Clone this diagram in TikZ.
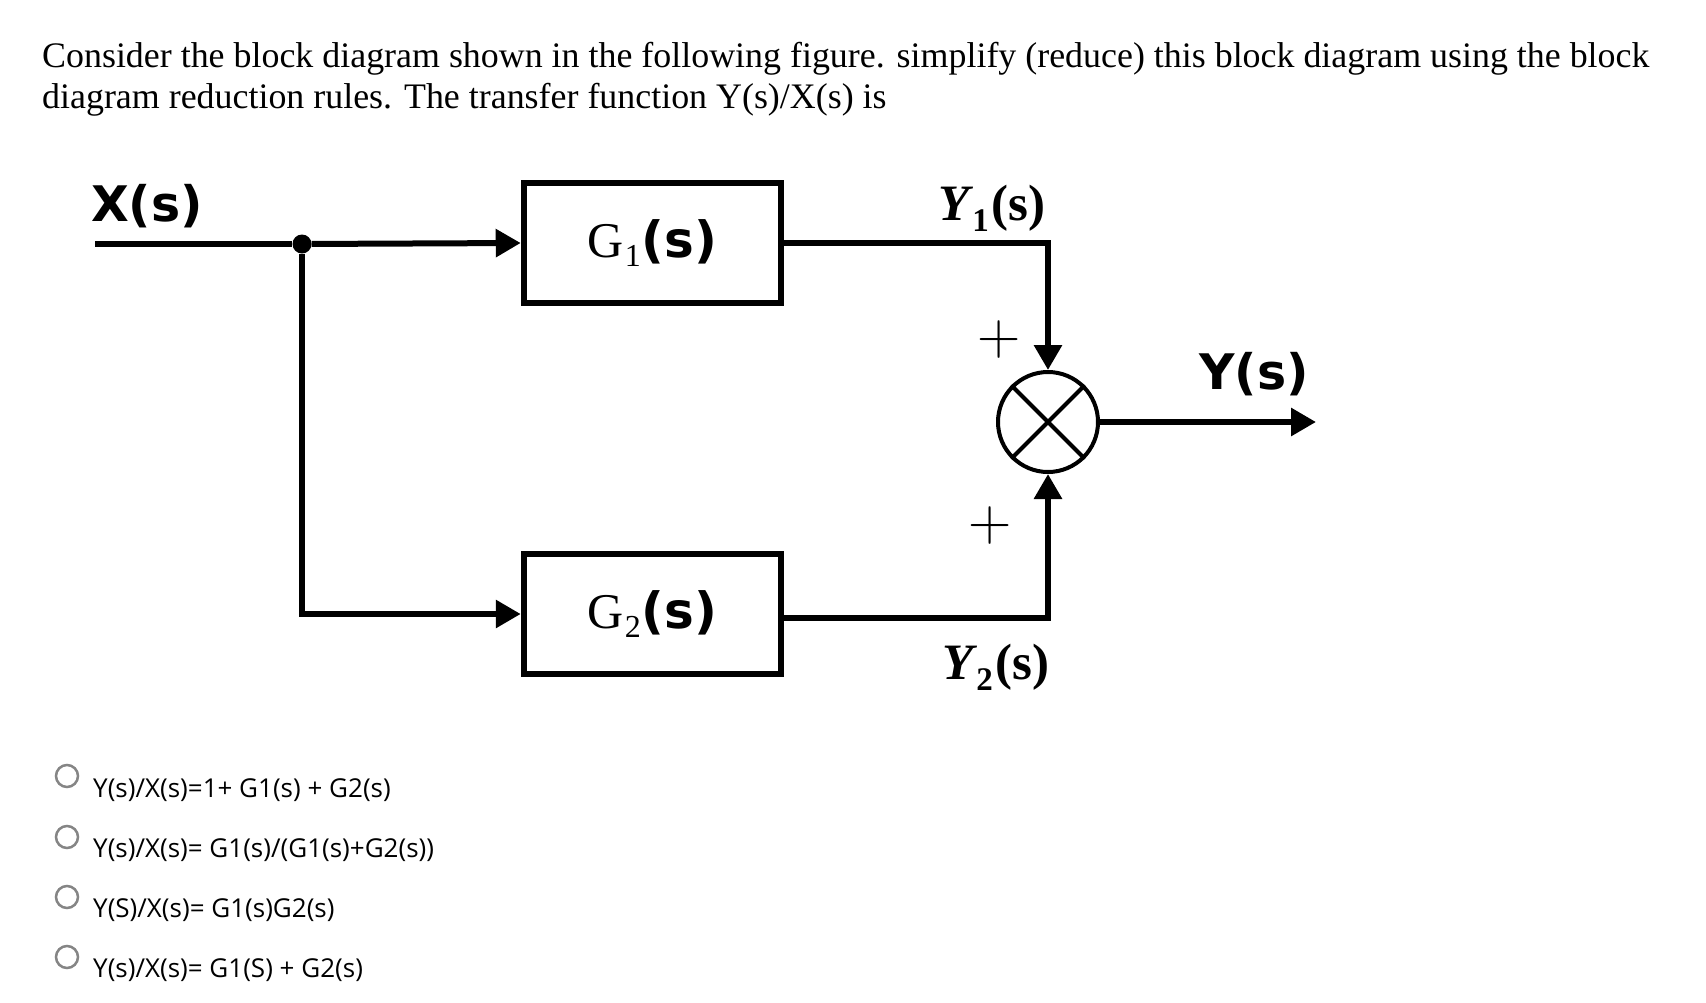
\documentclass[tikz,border=0pt]{standalone}
\usepackage{fontspec}
\setmainfont{Liberation Serif}
\newfontfamily\osans{Open Sans}
\newfontfamily\dvs{DejaVu Sans}
\newfontfamily\lmr{Latin Modern Roman}
\usetikzlibrary{arrows.meta}
\begin{document}
\begin{tikzpicture}[x=1pt,y=-1pt,
  wire/.style={line width=6pt},
  arr/.style={-{Triangle[length=25pt,width=27pt]}},
  blk/.style={draw, line width=6.5pt, minimum width=257pt, minimum height=120pt, inner sep=0pt},
  lab/.style={inner sep=0pt, font=\dvs\bfseries\fontsize{49}{49}\selectfont},
  ylab/.style={inner sep=0pt, font=\bfseries\fontsize{51}{51}\selectfont},
  plus/.style={inner sep=0pt, font=\lmr\fontsize{60}{60}\selectfont},
  radio/.style={draw=black!48, fill=white, circle, line width=2.5pt, minimum size=22pt, inner sep=0pt},
  opt/.style={anchor=base west, inner sep=0pt, font=\osans\fontsize{26}{30}\selectfont},
  ttl/.style={anchor=base west, inner sep=0pt, font=\fontsize{35.9}{41}\selectfont}]
\useasboundingbox (0,0) rectangle (1706,1002);
\fill[white] (0,0) rectangle (1706,1002);

% title
\node[ttl] (t1) at (42,67) {Consider the block diagram shown in the following figure. simplify (reduce) this block diagram using the block};
\node[ttl] (t2) at (42,108) {diagram reduction rules. The transfer function Y(s)/X(s) is};

% blocks
\node[blk] (G1) at (652.5,243) {{\fontsize{50}{50}\selectfont G\kern1pt\raisebox{-9pt}{\fontsize{32}{32}\selectfont 1}\kern1pt\dvs\bfseries(s)}};
\node[blk] (G2) at (652.5,614) {{\fontsize{50}{50}\selectfont G\kern1pt\raisebox{-9pt}{\fontsize{32}{32}\selectfont 2}\kern1pt\dvs\bfseries(s)}};

% summing junction
\node[draw, circle, line width=4pt, minimum size=100pt, inner sep=0pt] (S) at (1048,422) {};
\draw[line width=4pt] (S.45) -- (S.225) (S.135) -- (S.-45);

% branch point
\node[circle, fill, inner sep=0pt, minimum size=19pt] (J) at (302,244) {};
\coordinate (in) at (95,244);
\coordinate (out) at (1316,422);

% connectors
\draw[wire] (in) -- (J);
\draw[wire,arr] (J) -- (G1.west);
\draw[wire,arr] (J) |- (G2.west);
\draw[wire,arr] (G1.east) -| (S.north);
\draw[wire,arr] ([yshift=-4pt]G2.east) -| (S.south);
\draw[wire,arr] (S.east) -- (out);

% labels
\node[lab] (Xs) at (147,206) {X(s)};
\node[lab] (Ys) at (1254,374) {Y(s)};
\node[ylab] (Y1) at (992,208) {{\itshape Y}\kern3pt\raisebox{-11pt}{\fontsize{33}{33}\selectfont 1}\kern3pt(s)};
\node[ylab] (Y2) at (996,667) {{\itshape Y}\kern3pt\raisebox{-11pt}{\fontsize{33}{33}\selectfont 2}\kern3pt(s)};
\node[plus] (p1) at (999,340) {+};
\node[plus] (p2) at (990,526) {+};

% options
\node[radio] (r1) at (67,776) {};
\node[radio] (r2) at (67,837) {};
\node[radio] (r3) at (67,897) {};
\node[radio] (r4) at (67,957) {};
\node[opt] (o1) at (93,797) {Y(s)/X(s)=1+ G1(s) + G2(s)};
\node[opt] (o2) at (93,857) {Y(s)/X(s)= G1(s)/(G1(s)+G2(s))};
\node[opt] (o3) at (93,917) {Y(S)/X(s)= G1(s)G2(s)};
\node[opt] (o4) at (93,977) {Y(s)/X(s)= G1(S) + G2(s)};
\end{tikzpicture}
\end{document}
